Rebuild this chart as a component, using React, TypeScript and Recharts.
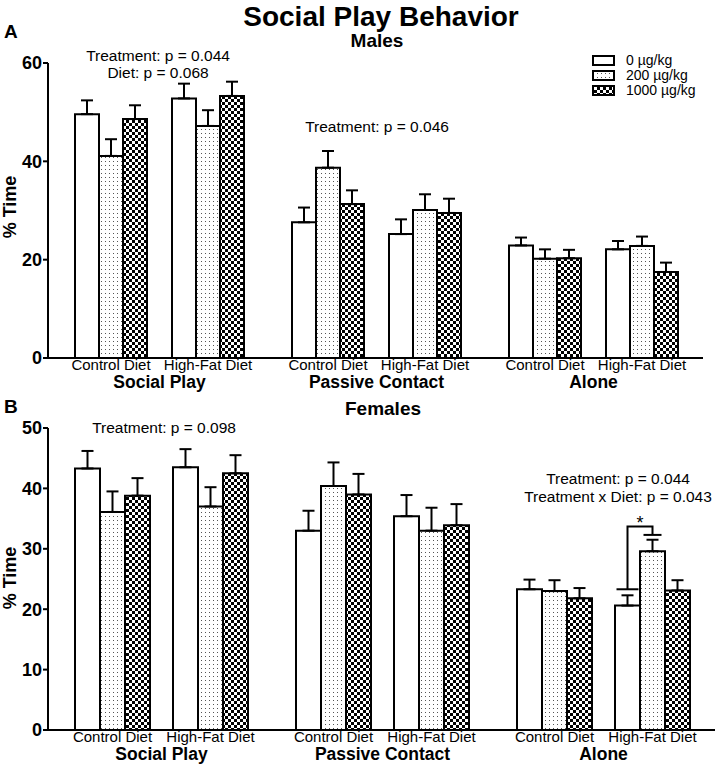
import React from 'react';
import { BarChart, Bar, XAxis, YAxis, ErrorBar, Rectangle } from 'recharts';

const behaviors = ['Social Play', 'Passive Contact', 'Alone'];
const diets = ['Control Diet', 'High-Fat Diet'];
const doses = ['0 µg/kg', '200 µg/kg', '1000 µg/kg'];

// order of every series: SP-control, SP-high-fat, PC-control, PC-high-fat, Alone-control, Alone-high-fat
const male0 = [49.6, 52.8, 27.6, 25.2, 22.9, 22.1];
const male0Sem = [2.8, 3.0, 3.0, 3.0, 1.6, 1.7];
const male200 = [41.1, 47.2, 38.7, 30.1, 20.2, 22.8];
const male200Sem = [3.4, 3.2, 3.4, 3.2, 1.9, 1.9];
const male1000 = [48.6, 53.3, 31.3, 29.5, 20.3, 17.5];
const male1000Sem = [2.8, 2.9, 2.8, 2.9, 1.7, 1.9];

const female0 = [43.3, 43.5, 33.0, 35.4, 23.3, 20.6];
const female0Sem = [2.9, 3.0, 3.3, 3.5, 1.6, 1.7];
const female200 = [36.1, 37.0, 40.4, 33.0, 23.0, 29.6];
const female200Sem = [3.4, 3.2, 3.9, 3.8, 1.8, 1.9];
const female1000 = [38.8, 42.5, 39.0, 33.9, 21.8, 23.1];
const female1000Sem = [2.9, 3.0, 3.4, 3.5, 1.7, 1.7];

const maleTicks = [0, 20, 40, 60];
const femaleTicks = [0, 10, 20, 30, 40, 50];

// significance bracket, females / Alone / high-fat: 0 vs 200 µg/kg
const femaleBracket = { behavior: 'Alone', key: 'h0', low: 23.3, top: 33.7, high: 32.3 };

const FONT = '"Liberation Sans", Arial, sans-serif';
const fills = ['#ffffff', 'url(#dots)', 'url(#checker)'];

function buildRows(means: number[][], sems: number[][]) {
  return behaviors.map((behavior, i) => {
    const row: any = { behavior };
    means.forEach((m, d) => {
      row['c' + d] = m[2 * i];
      row['h' + d] = m[2 * i + 1];
      row['c' + d + 'e'] = [0, sems[d][2 * i]];
      row['h' + d + 'e'] = [0, sems[d][2 * i + 1]];
    });
    return row;
  });
}

const maleRows = buildRows([male0, male200, male1000], [male0Sem, male200Sem, male1000Sem]);
const femaleRows = buildRows([female0, female200, female1000], [female0Sem, female200Sem, female1000Sem]);

function DietTick({ x, y, payload, half }: any) {
  return (
    <g fontFamily={FONT} fill="#000">
      <text x={x - half} y={y + 12} textAnchor="middle" fontSize={15}>{diets[0]}</text>
      <text x={x + half} y={y + 12} textAnchor="middle" fontSize={15}>{diets[1]}</text>
      <text x={x} y={y + 30} textAnchor="middle" fontSize={17.5} fontWeight="bold">{payload.value}</text>
    </g>
  );
}

function makeShape(key: string, bracket: any) {
  return (props: any) => {
    const rect = <Rectangle {...props} />;
    if (!bracket || bracket.key !== key || props.payload.behavior !== bracket.behavior) return rect;
    const { x, y, width, height } = props;
    const v = props.payload[key];
    const base = y + height;
    const py = (val: number) => base - (val * height) / v;
    const lx = x + width / 2;
    const rx = x + width * 1.5;
    return (
      <g>
        {rect}
        <g stroke="#000" strokeWidth={2} fill="none">
          <line x1={lx - 11} x2={lx + 11} y1={py(bracket.low)} y2={py(bracket.low)} />
          <polyline points={`${lx},${py(bracket.low)} ${lx},${py(bracket.top)} ${rx},${py(bracket.top)} ${rx},${py(bracket.high)}`} />
          <line x1={rx - 9} x2={rx + 9} y1={py(bracket.high)} y2={py(bracket.high)} />
        </g>
        <text x={(lx + rx) / 2} y={py(bracket.top) + 3} textAnchor="middle" fontSize={18} fontFamily={FONT}>*</text>
      </g>
    );
  };
}

function Panel({ data, ticks, width, height, margin, barW, gapW, bracket }: any) {
  const keys = ['c0', 'c1', 'c2', 'gap', 'h0', 'h1', 'h2'];
  const half = (3 * barW + gapW) / 2;
  return (
    <BarChart width={width} height={height} data={data} margin={margin} barGap={0}>
      <XAxis
        dataKey="behavior"
        interval={0}
        height={30}
        padding={{ left: 3, right: 1 }}
        axisLine={{ stroke: '#000', strokeWidth: 2 }}
        tickLine={false}
        tickSize={0}
        tickMargin={0}
        tick={(p: any) => <DietTick {...p} half={half} />}
      />
      <YAxis
        width={48}
        domain={[0, ticks[ticks.length - 1]]}
        ticks={ticks}
        interval={0}
        axisLine={{ stroke: '#000', strokeWidth: 2 }}
        tickLine={{ stroke: '#000', strokeWidth: 2 }}
        tickSize={5}
        tickMargin={1}
        tick={{ fill: '#000', fontSize: 18, fontWeight: 'bold', fontFamily: FONT }}
      />
      {keys.map((k) =>
        k === 'gap' ? (
          <Bar key={k} dataKey={k} barSize={gapW} fill="none" isAnimationActive={false} />
        ) : (
          <Bar
            key={k}
            dataKey={k}
            barSize={barW}
            fill={fills[Number(k[1])]}
            stroke="#000"
            strokeWidth={2}
            isAnimationActive={false}
            shape={makeShape(k, bracket)}
          >
            <ErrorBar dataKey={k + 'e'} direction="y" width={6} stroke="#000" strokeWidth={2} isAnimationActive={false} />
          </Bar>
        )
      )}
    </BarChart>
  );
}

export default function App() {
  return (
    <div style={{ position: 'absolute', left: 0, top: 0, width: 717, height: 764, background: '#fff', fontFamily: FONT }}>
      <div style={{ position: 'absolute', left: 0, top: 0 }}>
        <Panel
          data={maleRows}
          ticks={maleTicks}
          width={717}
          height={395}
          margin={{ top: 63, right: 14, bottom: 7, left: 0 }}
          barW={24}
          gapW={25}
        />
      </div>
      <div style={{ position: 'absolute', left: 0, top: 395 }}>
        <Panel
          data={femaleRows}
          ticks={femaleTicks}
          width={717}
          height={369}
          margin={{ top: 33, right: 2, bottom: 4, left: 0 }}
          barW={25}
          gapW={23}
          bracket={femaleBracket}
        />
      </div>
      <svg width={717} height={764} style={{ position: 'absolute', left: 0, top: 0, pointerEvents: 'none' }} fontFamily={FONT} fill="#000">
        <defs>
          <pattern id="dots" width={4} height={4} patternUnits="userSpaceOnUse">
            <rect width={4} height={4} fill="#fff" />
            <rect x={1} y={1} width={1} height={1} fill="#555" />
          </pattern>
          <pattern id="checker" width={6} height={6} patternUnits="userSpaceOnUse">
            <rect width={6} height={6} fill="#fff" />
            <rect width={3} height={3} fill="#000" />
            <rect x={3} y={3} width={3} height={3} fill="#000" />
          </pattern>
        </defs>
        <text x={381} y={26} textAnchor="middle" fontSize={28} fontWeight="bold">Social Play Behavior</text>

        <text x={4} y={38} fontSize={19} fontWeight="bold">A</text>
        <text x={377} y={47} textAnchor="middle" fontSize={19} fontWeight="bold">Males</text>
        <text x={158} y={61} textAnchor="middle" fontSize={15.5}>Treatment: p = 0.044</text>
        <text x={158} y={78} textAnchor="middle" fontSize={15.5}>Diet: p = 0.068</text>
        <text x={377} y={132} textAnchor="middle" fontSize={15.5}>Treatment: p = 0.046</text>
        <text x={10} y={207} textAnchor="middle" dominantBaseline="central" fontSize={18} fontWeight="bold" transform="rotate(-90 10 207)">% Time</text>

        {doses.map((d, i) => (
          <g key={d}>
            <rect x={593} y={56 + i * 15} width={21} height={9} fill={fills[i]} stroke="#000" strokeWidth={2} />
            <text x={626} y={65 + i * 15} fontSize={14}>{d}</text>
          </g>
        ))}

        <text x={4} y={413} fontSize={19} fontWeight="bold">B</text>
        <text x={383} y={415} textAnchor="middle" fontSize={19} fontWeight="bold">Females</text>
        <text x={164} y={433} textAnchor="middle" fontSize={15.5}>Treatment: p = 0.098</text>
        <text x={618} y={484} textAnchor="middle" fontSize={15.5}>Treatment: p = 0.044</text>
        <text x={618} y={502} textAnchor="middle" fontSize={15.5}>Treatment x Diet: p = 0.043</text>
        <text x={10} y={578} textAnchor="middle" dominantBaseline="central" fontSize={18} fontWeight="bold" transform="rotate(-90 10 578)">% Time</text>
      </svg>
    </div>
  );
}
